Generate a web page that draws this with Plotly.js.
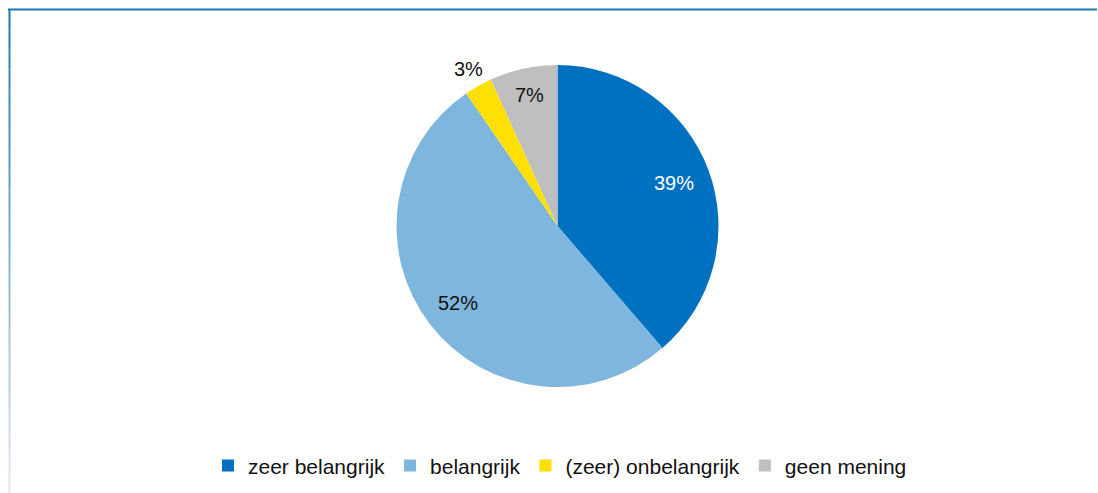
<!DOCTYPE html>
<html>
<head>
<meta charset="utf-8">
<script src="https://cdn.plot.ly/plotly-3.0.1.min.js"></script>
<style>
  html, body { margin: 0; padding: 0; background: #ffffff; }
  #chart { width: 1098px; height: 493px; }
</style>
</head>
<body>
<div id="chart"></div>
<script>
const categories = ['zeer belangrijk', 'belangrijk', '(zeer) onbelangrijk', 'geen mening'];
const shares = [38.7, 51.7, 2.8, 6.8];
const sliceColors = ['#0070C0', '#7FB6DD', '#FFE000', '#BFBFBF'];
const labelColors = ['#ffffff', '#111111', '#111111', '#111111'];
// how far from the centre each percentage label sits, as a fraction of the radius
const labelRadius = [0.77, 0.78, 1.12, 0.83];

const W = 1098, H = 493;
const domX = [0.3607, 0.6548], domY = [0.215, 0.868];
const fontFam = 'Liberation Sans, Arial, sans-serif';

const pieTrace = {
  type: 'pie',
  labels: categories,
  values: shares,
  sort: false,
  direction: 'clockwise',
  rotation: 0,
  marker: { colors: sliceColors, line: { width: 0 } },
  textinfo: 'none',
  hoverinfo: 'label+percent',
  domain: { x: domX, y: domY }
};

// percentage labels, placed at the middle angle of each slice
const total = shares.reduce((a, b) => a + b, 0);
const cx = (domX[0] + domX[1]) / 2 * W;
const cy = (1 - (domY[0] + domY[1]) / 2) * H;
const rad = Math.min((domX[1] - domX[0]) * W, (domY[1] - domY[0]) * H) / 2;
let cum = 0;
const labelAnnotations = shares.map((v, i) => {
  const mid = (cum + v / 2) / total * 2 * Math.PI;
  cum += v;
  const px = cx + labelRadius[i] * rad * Math.sin(mid);
  const py = cy - labelRadius[i] * rad * Math.cos(mid);
  return {
    xref: 'paper', yref: 'paper', x: px / W, y: 1 - py / H,
    xanchor: 'center', yanchor: 'middle', showarrow: false,
    text: Math.round(v / total * 100) + '%',
    font: { family: fontFam, size: 20, color: labelColors[i] }
  };
});

// frame: blue line on top, fading blue line on the left
const frameShapes = [
  { type: 'line', xref: 'paper', yref: 'paper', x0: 8 / W, x1: 1097 / W,
    y0: 1 - 9.5 / H, y1: 1 - 9.5 / H, line: { color: '#1F77B4', width: 2 } }
];
const steps = 24;
for (let i = 0; i < steps; i++) {
  const t = i / (steps - 1);
  const r = Math.round(31 + t * (225 - 31));
  const g = Math.round(119 + t * (232 - 119));
  const b = Math.round(180 + t * (245 - 180));
  const top = 9 + i * (484 / steps);
  const bot = 9 + (i + 1) * (484 / steps);
  frameShapes.push({
    type: 'line', xref: 'paper', yref: 'paper',
    x0: 9.5 / W, x1: 9.5 / W, y0: 1 - top / H, y1: 1 - bot / H,
    line: { color: `rgb(${r},${g},${b})`, width: 2 }
  });
}

const layout = {
  width: W,
  height: H,
  margin: { l: 0, r: 0, t: 0, b: 0 },
  paper_bgcolor: '#ffffff',
  font: { family: fontFam, size: 20, color: '#111111' },
  showlegend: true,
  legend: {
    orientation: 'h',
    x: 0.51, xanchor: 'center',
    y: 0.055, yanchor: 'middle',
    font: { family: fontFam, size: 21, color: '#111111' },
    itemwidth: 30,
    traceorder: 'normal'
  },
  annotations: labelAnnotations,
  shapes: frameShapes
};

Plotly.newPlot('chart', [pieTrace], layout, { displayModeBar: false, staticPlot: true });
</script>
</body>
</html>
